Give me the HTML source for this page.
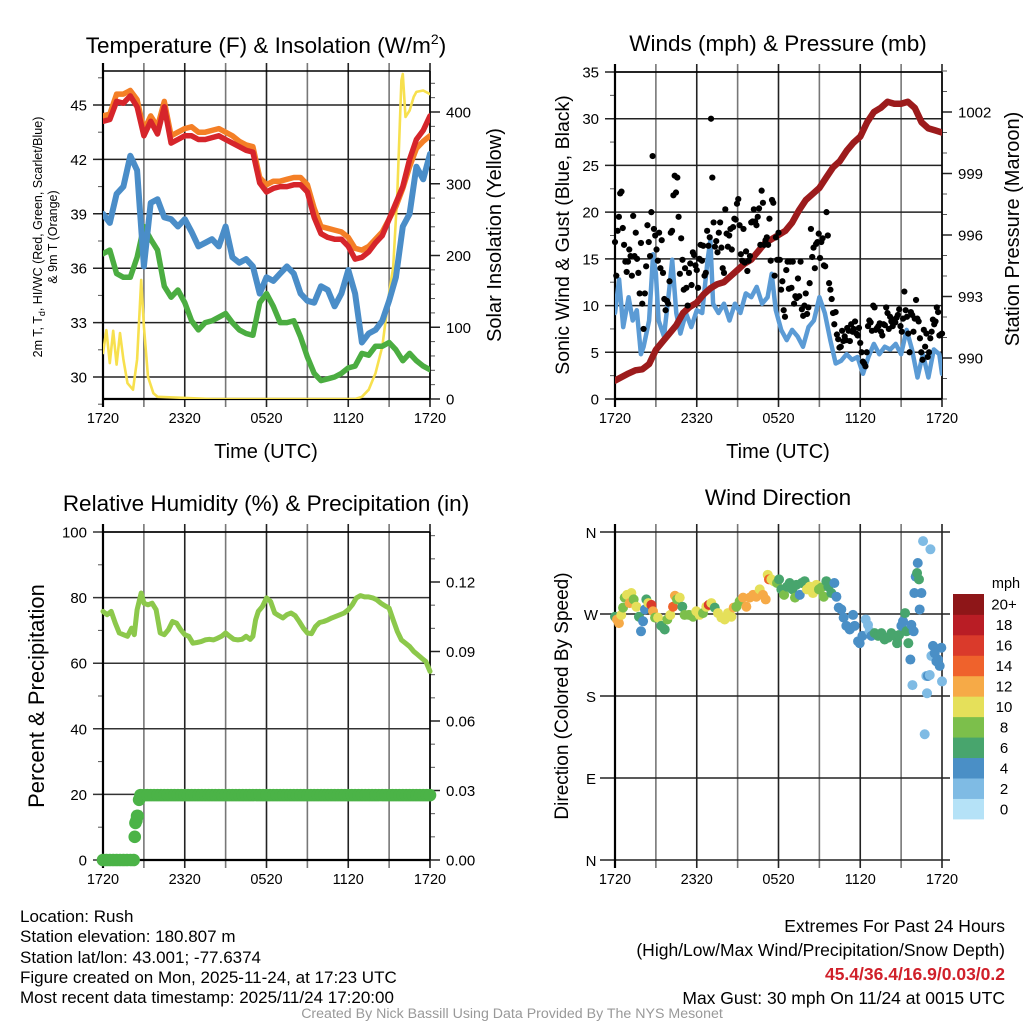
<!DOCTYPE html>
<html><head><meta charset="utf-8">
<style>
html,body{margin:0;padding:0;background:#fff;}
svg{display:block;font-family:"Liberation Sans",sans-serif;}
.info{position:absolute;font-family:"Liberation Sans",sans-serif;font-size:17px;color:#000;line-height:20.3px;white-space:nowrap;}
</style></head>
<body>
<div style="position:relative;width:1024px;height:1024px;overflow:hidden;">
<svg id="chart" width="1024" height="1024" viewBox="0 0 1024 1024"></svg>
<div class="info" style="left:20px;top:907px;">
<div>Location: Rush</div>
<div>Station elevation: 180.807 m</div>
<div>Station lat/lon: 43.001; -77.6374</div>
<div>Figure created on Mon, 2025-11-24, at 17:23 UTC</div>
<div>Most recent data timestamp: 2025/11/24 17:20:00</div>
</div>
<div class="info" style="right:19px;top:914px;text-align:right;font-size:17.5px;line-height:24px;">
<div>Extremes For Past 24 Hours</div>
<div>(High/Low/Max Wind/Precipitation/Snow Depth)</div>
<div style="color:#d0202a;font-weight:bold;">45.4/36.4/16.9/0.03/0.2</div>
<div>Max Gust: 30 mph On 11/24 at 0015 UTC</div>
</div>
<div style="position:absolute;left:0;width:1024px;top:1006px;text-align:center;font-family:'Liberation Sans',sans-serif;font-size:14.2px;color:#999;">Created By Nick Bassill Using Data Provided By The NYS Mesonet</div>
</div>
<script>
// ---------- DATA ----------
const tempTimes=[0,0.5,1,1.5,2,2.5,3,3.5,4,4.5,5,5.5,6,6.5,7,7.5,8,8.5,9,9.5,10,10.5,11,11.5,12,12.5,13,13.5,14,14.5,15,15.5,16,16.5,17,17.5,18,18.5,19,19.5,20,20.5,21,21.5,22,22.5,23,23.5,24];
const tempRed=[44.1,44.2,45.2,45.1,45.5,44.9,43.3,44.1,43.4,44.9,42.9,43.1,43.3,43.3,43.1,43.1,43.2,43.3,43.1,42.9,42.7,42.5,42.4,40.7,40.2,40.4,40.5,40.5,40.6,40.6,40.2,38.8,37.9,37.7,37.6,37.6,37.2,36.5,36.6,36.9,37.4,37.8,38.7,39.6,40.5,42.0,43.1,43.6,44.4];
const temp9m=[44.4,44.5,45.6,45.6,45.8,45.3,43.6,44.4,43.8,45.2,43.3,43.5,43.7,43.8,43.5,43.5,43.6,43.7,43.5,43.3,43.0,42.8,42.7,41.0,40.6,40.8,40.8,40.9,41.0,41.0,40.6,39.3,38.3,38.2,38.1,38.0,37.7,37.1,37.0,37.2,37.6,38.0,38.7,39.4,40.4,41.6,42.6,43.0,43.3];
const windChill=[39.0,38.5,40.1,40.5,42.2,41.4,36.1,39.6,39.8,38.8,38.7,38.3,38.7,38.0,37.2,37.4,37.6,37.2,38.3,36.6,36.3,36.5,36.1,34.6,35.5,35.3,35.7,36.1,35.7,34.6,34.2,34.1,35.0,34.8,33.9,34.6,35.9,34.6,31.9,32.4,32.6,33.1,34.2,35.5,38.3,39.0,41.6,40.9,42.3];
const dewPoint=[36.8,37.0,35.7,35.5,35.5,36.6,38.3,37.6,37.0,35.0,34.4,34.8,34.1,33.1,32.6,33.0,33.1,33.3,33.5,33.0,32.6,32.4,32.3,34.1,34.6,33.9,33.0,33.0,33.1,32.2,31.1,30.2,29.8,29.9,30.0,30.2,30.5,30.6,31.3,31.2,31.7,31.7,31.9,31.5,30.9,31.3,30.9,30.6,30.4];
const solarTimes=[0,0.25,0.5,0.75,1,1.25,1.5,1.8,2.2,2.5,2.8,3,3.3,3.7,4,8,12,16,18.5,19,19.5,20,20.5,21,21.3,21.6,21.9,22,22.2,22.5,22.8,23,23.5,24];
const solarVals=[64,96,50,95,48,92,55,22,13,55,166,101,31,8,3,0,0,0,0,3,13,36,73,147,184,286,444,453,393,402,421,428,430,425];

const windTimes=[0,0.3,0.6,1,1.3,1.6,1.9,2.1,2.5,2.8,3,3.2,3.6,4,4.2,4.5,4.8,5.2,5.6,6,6.4,6.8,7,7.2,7.6,8,8.4,8.8,9.2,9.6,10,10.4,10.8,11.2,11.5,11.8,12.2,12.6,13,13.4,13.8,14.2,14.6,15,15.4,15.8,16.2,16.6,17,17.4,17.8,18.2,18.6,19,19.4,19.8,20.2,20.6,21,21.4,21.8,22.2,22.6,23,23.4,23.8,24];
const windVals=[9.2,12.8,7.7,10.9,8.4,9.5,4.8,5.6,8.4,15.5,13.4,8.4,6.7,12.0,14.9,9.2,7.0,9.2,7.7,9.5,9.2,14.9,17.0,10.2,9.2,10.2,8.4,10.2,9.2,11.3,10.9,12.0,10.2,10.9,13.4,9.5,7.4,6.3,7.4,6.7,5.6,7.7,8.4,10.9,9.2,6.3,3.8,4.1,4.8,4.2,4.5,2.7,4.5,5.9,4.8,5.6,5.3,5.9,4.8,7.4,5.3,2.3,4.8,2.3,5.3,4.8,2.7];
const gustVals=[16.8,13.2,18,19.5,22,22.2,18.3,16.5,14.7,13.6,14.7,16,15.3,13.2,19.6,15.3,17.8,15,13.5,11.3,16.7,10.2,7.5,11.3,14.2,18.6,16.8,15.3,20,26,18.2,17.5,16,14.8,17.8,14,17,13.5,10.7,9.5,10.5,10.2,12.6,17.8,18,21.8,23.9,22.1,23.7,19.5,13.4,17.2,14.9,11.7,14,11.9,10,13.5,14.5,12.2,15.7,15.4,14.3,13.8,11.9,15,16.5,14.8,16.4,13.2,13.5,18,16.4,17.3,30,23.7,18.9,16.3,16.9,15.7,17.8,18.9,16.2,14,13.5,20.3,17.7,16.3,17.5,18.2,16,18.4,19.3,19.2,20.9,21.4,18.6,15.5,14.8,18.2,14.6,15.8,13.7,14.8,15.3,18.9,19,20.3,19,18.6,19.5,20.4,16.5,22.3,21,16.5,17,17.3,16.5,19.3,14.8,21.3,21,13.2,17.3,14.9,17.8,14.9,11.7,12.6,9.5,8.8,13.8,14.7,11.8,14.7,11.9,14.7,10.2,11,10.8,12.9,11,14.7,9.6,8.9,10,11.3,9.1,9.8,12.4,18.2,15.2,16.2,14,16.6,16.8,17.7,15.1,16.8,17.2,14.3,14.2,20,17.5,12.4,11.7,10.7,9.2,8,9.3,6.9,6.4,5.5,5.6,7.3,6.2,6.7,6.3,7.6,7.3,6.2,8,7.2,7.5,8.3,7,6.8,7.6,6,5,4,3.8,3.5,5,7.8,8.4,8.2,7.3,10,9.8,7.4,7.6,7.8,8.1,7.2,6.8,8,7.9,9.8,9.2,7.5,8.8,8.3,7.8,8.5,8.2,8.7,9,9.6,7.8,7.2,8.6,11.5,9.5,8.8,7,5,9.3,9,7.2,8.6,10.6,8.6,8.3,6.5,5,4.2,7.4,5.6,7,4.5,5,6.5,7.2,8.5,8,8.3,9.8,9.3,6.8,6.9,7];
const pressTimes=[0,1,1.5,2,2.5,3,3.5,4,4.5,5,5.5,6,6.5,7,7.5,8,8.5,9,9.5,10,10.5,11,11.5,12,12.5,13,13.5,14,14.5,15,15.5,16,16.5,17,17.5,18,18.5,19,19.5,20,20.5,21,21.5,22,22.5,23,23.5,24];
const pressVals=[988.9,989.25,989.4,989.45,989.7,990.4,990.8,991.2,991.6,992.2,992.5,992.7,993.1,993.4,993.6,993.7,994.0,994.3,994.6,994.8,995.2,995.6,995.8,996.0,996.2,996.6,997.2,997.7,998.0,998.3,998.8,999.3,999.6,1000.1,1000.5,1000.8,1001.5,1002.0,1002.2,1002.5,1002.4,1002.4,1002.5,1002.2,1001.5,1001.2,1001.1,1001.0];

const rhTimes=[0,0.3,0.6,0.9,1.2,1.5,1.8,2.1,2.3,2.5,2.8,3,3.3,3.6,3.9,4.2,4.5,4.8,5.1,5.4,5.7,6,6.3,6.6,6.9,7.2,7.5,7.8,8.1,8.4,8.7,9,9.3,9.6,9.9,10.2,10.5,10.8,11,11.2,11.4,11.7,12,12.3,12.6,12.9,13.2,13.5,13.8,14.1,14.4,14.7,15,15.3,15.6,15.9,16.2,16.5,16.8,17.1,17.4,17.7,18,18.3,18.6,18.9,19.2,19.5,19.8,20.1,20.4,20.7,21,21.3,21.6,21.9,22.2,22.5,22.8,23.1,23.4,23.7,24];
const rhVals=[75.8,74.8,75.8,72.2,69.2,68.7,68.2,70.7,68.7,76.3,81.4,78.3,77.8,78.3,76.3,69.2,68.7,70.2,72.7,72.2,70.2,68.7,68.2,66.1,66.3,66.6,67.1,67.3,67.1,67.6,68.2,69.2,68.2,67.3,67.1,67.3,68.2,67.3,68.2,73.2,75.8,77.3,79.9,78.8,75.3,74.5,73.8,74.8,75.3,74.5,72.7,70.7,69.2,69.0,71.2,72.4,72.7,73.2,73.8,74.3,74.8,75.3,76.3,77.8,79.9,80.6,80.2,80.2,79.9,79.3,78.3,77.5,76.8,73.2,69.7,67.1,66.1,65.1,63.6,62.6,61.5,60.5,57.5];
const precipTimes=[0,0.25,0.5,0.75,1,1.25,1.5,1.75,2,2.25,2.33,2.38,2.45,2.5,2.55,2.65,2.75,3,3.25,3.5,3.75,4,4.25,4.5,4.75,5,5.25,5.5,5.75,6,6.25,6.5,6.75,7,7.25,7.5,7.75,8,8.25,8.5,8.75,9,9.25,9.5,9.75,10,10.25,10.5,10.75,11,11.25,11.5,11.75,12,12.25,12.5,12.75,13,13.25,13.5,13.75,14,14.25,14.5,14.75,15,15.25,15.5,15.75,16,16.25,16.5,16.75,17,17.25,17.5,17.75,18,18.25,18.5,18.75,19,19.25,19.5,19.75,20,20.25,20.5,20.75,21,21.25,21.5,21.75,22,22.25,22.5,22.75,23,23.25,23.5,23.75,24];
const precipVals=[0,0,0,0,0,0,0,0,0,0,0.010,0.016,0.017,0.019,0.019,0.026,0.028,0.028,0.028,0.028,0.028,0.028,0.028,0.028,0.028,0.028,0.028,0.028,0.028,0.028,0.028,0.028,0.028,0.028,0.028,0.028,0.028,0.028,0.028,0.028,0.028,0.028,0.028,0.028,0.028,0.028,0.028,0.028,0.028,0.028,0.028,0.028,0.028,0.028,0.028,0.028,0.028,0.028,0.028,0.028,0.028,0.028,0.028,0.028,0.028,0.028,0.028,0.028,0.028,0.028,0.028,0.028,0.028,0.028,0.028,0.028,0.028,0.028,0.028,0.028,0.028,0.028,0.028,0.028,0.028,0.028,0.028,0.028,0.028,0.028,0.028,0.028,0.028,0.028,0.028,0.028,0.028,0.028,0.028,0.028,0.028,0.028];

const dirTimes=[0,0.15,0.29,0.46,0.59,0.71,0.88,1.08,1.2,1.37,1.57,1.76,1.91,2.06,2.2,2.3,2.45,2.67,2.79,2.94,3.16,3.4,3.65,3.84,4.06,4.26,4.4,4.55,4.75,4.94,5.11,5.43,5.73,5.97,6.21,6.46,6.7,6.88,7.07,7.32,7.56,7.81,8.05,8.29,8.54,8.71,8.91,9.15,9.4,9.64,9.89,10.13,10.37,10.62,10.86,11.06,11.21,11.3,11.48,11.65,11.89,12.04,12.21,12.41,12.63,12.82,13.02,13.21,13.31,13.56,13.7,13.92,14.09,14.29,14.53,14.78,14.97,15.15,15.32,15.51,15.66,15.88,16.1,16.25,16.42,16.61,16.78,16.98,17.23,17.47,17.59,17.84,17.96,18.16,18.4,18.57,18.69,18.82,19.06,19.31,19.55,19.79,20.04,20.28,20.53,20.7,20.85,21.02,21.14,21.29,21.39,21.53,21.68,21.75,21.83,21.92,21.97,22.07,22.17,22.22,22.31,22.36,22.49,22.61,22.73,22.85,22.9,22.97,23.1,23.15,23.22,23.34,23.46,23.59,23.71,23.83,23.95,24];
const dirDegs=[267,264,260,269,277,288,291,282,293,286,278,267,251,262,275,286,282,280,273,266,266,257,253,264,269,278,290,286,288,278,269,269,267,273,269,271,278,280,282,277,271,266,264,271,267,277,278,284,288,278,288,291,289,297,291,286,313,308,308,306,304,308,297,291,300,304,297,288,302,291,304,306,297,300,293,302,297,299,289,306,300,293,304,289,277,275,266,257,253,269,257,240,238,246,264,258,251,246,249,246,249,242,244,249,246,238,247,257,262,271,251,238,220,258,192,251,293,311,315,326,308,275,293,350,138,202,183,202,203,341,224,235,227,218,220,213,233,196];
const dirSpeeds=[7,13,13,11,9,9,11,13,11,9,11,7,5,5,5,7,11,17,13,9,11,7,7,9,11,15,13,9,11,7,9,9,9,11,11,9,11,17,11,7,11,11,11,11,11,13,9,9,13,13,13,13,13,11,13,13,11,15,11,11,9,7,7,9,7,7,7,9,7,5,7,7,11,11,11,11,9,9,9,7,7,7,5,5,5,5,5,5,5,5,5,5,5,5,3,3,3,5,7,7,7,7,7,7,7,7,7,5,5,7,7,7,5,5,3,5,5,5,7,5,7,5,5,3,3,3,3,5,3,3,3,5,5,5,5,5,5,3,5,3];
const cbLabels=['0','2','4','6','8','10','12','14','16','18','20+'];
const cbColors=['#b5e2f7','#7fbbe4','#4a8fc6','#48a56d','#7cbf4b','#e5e05a','#f6aa47','#ef622c','#da3a2b','#b91d25','#8e1618'];

// ---------- HELPERS ----------
const svg=document.getElementById('chart');
const NS='http://www.w3.org/2000/svg';
function mk(tag,attrs,parent){const e=document.createElementNS(NS,tag);for(const k in attrs)e.setAttribute(k,attrs[k]);(parent||svg).appendChild(e);return e;}
function scale(d0,d1,r0,r1){return v=>r0+(v-d0)*(r1-r0)/(d1-d0);}
function txt(x,y,s,size,anchor,parent,extra){const t=mk('text',Object.assign({x:x,y:y,'font-size':size,'text-anchor':anchor||'middle',fill:'#000'},extra||{}),parent);t.textContent=s;return t;}

function buildFrame(P,name,xs){
  const g=mk('g',{});
  
  
  for(let h=0;h<=24;h+=3){
    const x=xs(h);
    const ln=mk('line',{x1:x,y1:P.t-8,x2:x,y2:P.b+8,stroke:(h%6===0)?'#222':'#777','stroke-width':1.6},g);
    
    
    if(h%6===0){
      const lab=['1720','2320','0520','1120','1720'][h/6];
      const t=txt(x,P.b+24,lab,14.5,'middle',g);
      
      
    }
  }
  return g;
}
function leftAxis(P,g,ys,majors,minors,fmt,gridStroke){
  minors.forEach(v=>{mk('line',{x1:P.l-5,y1:ys(v),x2:P.l,y2:ys(v),stroke:'#555','stroke-width':1},g);});
  majors.forEach(v=>{
    const y=ys(v);
    const gl=mk('line',{x1:P.l-10,y1:y,x2:P.r,y2:y,stroke:gridStroke||'#222','stroke-width':1.5},g);
    
    
    const t=txt(P.l-16,y+5.5,fmt(v),15,'end',g);
    
    
  });
}
function rightAxis(P,g,ys,majors,minors,fmt){
  minors.forEach(v=>{mk('line',{x1:P.r,y1:ys(v),x2:P.r+5,y2:ys(v),stroke:'#555','stroke-width':1},g);});
  majors.forEach(v=>{
    const y=ys(v);
    mk('line',{x1:P.r,y1:y,x2:P.r+10,y2:y,stroke:'#222','stroke-width':1.5},g);
    const t=txt(P.r+16,y+5.5,fmt(v),15,'start',g);
    
    
  });
}
function border(P,g){
  mk('line',{x1:P.l,y1:P.t-8,x2:P.l,y2:P.b+8,stroke:'#000','stroke-width':2.2},g);
  mk('line',{x1:P.l,y1:P.b,x2:P.r,y2:P.b,stroke:'#000','stroke-width':2.2},g);
  mk('line',{x1:P.l,y1:P.t,x2:P.r,y2:P.t,stroke:'#000','stroke-width':1.5},g);
  mk('line',{x1:P.r,y1:P.t,x2:P.r,y2:P.b,stroke:'#000','stroke-width':1.5},g);
}
function range(a,b,s){const r=[];for(let v=a;v<=b+1e-9;v+=s)r.push(+v.toFixed(4));return r;}
function polyline(times,vals,xs,ys,color,w,name,clip){
  const pts=times.map((t,i)=>xs(t).toFixed(1)+','+ys(vals[i]).toFixed(1)).join(' ');
  const p=mk('polyline',{points:pts,fill:'none',stroke:color,'stroke-width':w,'stroke-linejoin':'round','stroke-linecap':'round','clip-path':clip||''});
  
  
  return p;
}
function clipRect(id,P){const d=mk('clipPath',{id:id});mk('rect',{x:P.l,y:P.t,width:P.r-P.l,height:P.b-P.t},d);return 'url(#'+id+')';}

// ---------- PANEL 1: Temperature ----------
{
const P={l:103,r:430,t:71,b:399};
const xs=scale(0,24,P.l,P.r);
const yT=scale(30,45,377,105);
const yS=scale(0,400,399,112);
const g=buildFrame(P,'temperature',xs);
leftAxis(P,g,yT,[30,33,36,39,42,45],range(28.5,46.5,1.5),v=>String(v));
rightAxis(P,g,yS,[0,100,200,300,400],range(0,440,20),v=>String(v));
border(P,g);
const clip=clipRect('c1',P);
polyline(solarTimes,solarVals,xs,yS,'#f7e04e',2.6,'solar-insolation-line',clip);
polyline(tempTimes,dewPoint,xs,yT,'#4bad41',5.5,'dewpoint-line',clip);
polyline(tempTimes,windChill,xs,yT,'#4a8dc8',6,'wind-chill-line',clip);
polyline(tempTimes,temp9m,xs,yT,'#f47f26',5.5,'temp-9m-line',clip);
polyline(tempTimes,tempRed,xs,yT,'#d6252b',5.5,'temp-2m-line',clip);
const t1=mk('text',{x:266,y:53,'font-size':22.5,'text-anchor':'middle'});
t1.innerHTML='Temperature (F) &amp; Insolation (W/m<tspan dy="-9" font-size="14">2</tspan><tspan dy="9">)</tspan>';


const yl=mk('text',{x:0,y:0,'font-size':12.5,'text-anchor':'middle',transform:'translate(42,237) rotate(-90)'});
yl.innerHTML='2m T, T<tspan dy="3" font-size="9">d</tspan><tspan dy="-3">, HI/WC (Red, Green, Scarlet/Blue)</tspan>';


const yl2=txt(0,0,'& 9m T (Orange)',12.5,'middle',svg,{transform:'translate(57,237) rotate(-90)'});


const yr=txt(0,0,'Solar Insolation (Yellow)',20,'middle',svg,{transform:'translate(501,235) rotate(-90)'});


const xt=txt(266,458,'Time (UTC)',20);


}

// ---------- PANEL 2: Winds & Pressure ----------
{
const P={l:615,r:942,t:72,b:399};
const xs=scale(0,24,P.l,P.r);
const yW=scale(0,35,399,72);
const yP=scale(990,1002,358,112);
const g=buildFrame(P,'winds',xs);
leftAxis(P,g,yW,[0,5,10,15,20,25,30,35],range(0,35,2.5),v=>String(v));
rightAxis(P,g,yP,[990,993,996,999,1002],range(988,1004,1),v=>String(v));
border(P,g);
const clip=clipRect('c2',P);
polyline(windTimes,windVals,xs,yW,'#5b9bd5',4.5,'sonic-wind-line',clip);
polyline(pressTimes,pressVals,xs,yP,'#9c1b1c',6.5,'pressure-line',clip);
const gg=mk('g',{});


const n=gustVals.length;
gustVals.forEach((v,i)=>{
  const c=mk('circle',{cx:xs(i*24/(n-1)),cy:yW(v),r:3.1,fill:'#000'},gg);
  
  
});
const t=txt(778,51,'Winds (mph) & Pressure (mb)',22.5);


const yl=txt(0,0,'Sonic Wind & Gust (Blue, Black)',19.5,'middle',svg,{transform:'translate(569,235) rotate(-90)'});


const yr=txt(0,0,'Station Pressure (Maroon)',20,'middle',svg,{transform:'translate(1019,229) rotate(-90)'});


const xt=txt(778,458,'Time (UTC)',20);


}

// ---------- PANEL 3: RH & Precip ----------
{
const P={l:103,r:430,t:532,b:860};
const xs=scale(0,24,P.l,P.r);
const yR=scale(0,100,860,532);
const yQ=scale(0,0.12,860,582);
const g=buildFrame(P,'humidity',xs);
leftAxis(P,g,yR,[0,20,40,60,80,100],range(0,100,10),v=>String(v),'#333');
rightAxis(P,g,yQ,[0,0.03,0.06,0.09,0.12],range(0,0.14,0.01),v=>v.toFixed(2));
border(P,g);
const pg=mk('g',{});


precipTimes.forEach((tm,i)=>{
  const c=mk('circle',{cx:xs(tm),cy:yQ(precipVals[i]),r:6.3,fill:'#4bb347'},pg);
  
  
});
polyline(rhTimes,rhVals,xs,yR,'#8cc84b',5,'relative-humidity-line');
const t=txt(266,511,'Relative Humidity (%) & Precipitation (in)',22.5);


const yl=txt(0,0,'Percent & Precipitation',22,'middle',svg,{transform:'translate(44,696) rotate(-90)'});


}

// ---------- PANEL 4: Wind Direction ----------
{
const P={l:615,r:942,t:532,b:860};
const xs=scale(0,24,P.l,P.r);
const yD=scale(0,360,860,532);
const g=buildFrame(P,'direction',xs);
const dl=['N','E','S','W','N'];
[0,90,180,270,360].forEach((v,i)=>{
  const y=yD(v);
  mk('line',{x1:P.l-15,y1:y,x2:P.r+8,y2:y,stroke:'#222','stroke-width':1.5},g);
  const t=txt(591,y+6,dl[i],15,'middle',g);
  
  
});
mk('line',{x1:P.l,y1:P.t-8,x2:P.l,y2:P.b+8,stroke:'#000','stroke-width':2.2},g);
const dg=mk('g',{});


dirTimes.forEach((h,i)=>{
  const bin=Math.min(10,Math.floor(dirSpeeds[i]/2));
  const c=mk('circle',{cx:xs(h),cy:yD(dirDegs[i]),r:5,fill:cbColors[bin]},dg);
  
  
});
const t=txt(778,505,'Wind Direction',22.5);


const yl=txt(0,0,'Direction (Colored By Speed)',19,'middle',svg,{transform:'translate(568,696) rotate(-90)'});


const cb=mk('g',{});


const cbTop=594,cbBot=819,n=cbColors.length,bh=(cbBot-cbTop)/n;
cbColors.forEach((col,i)=>{
  const y=cbBot-(i+1)*bh;
  const r=mk('rect',{x:953,y:y,width:31,height:bh+0.4,fill:col},cb);
  
  
  const tl=txt(1004,y+bh/2+5.5,cbLabels[i],15,'middle',cb);
  
  
});
const u=txt(1006,588,'mph',14.5,'middle',cb);


}
</script>
</body></html>
